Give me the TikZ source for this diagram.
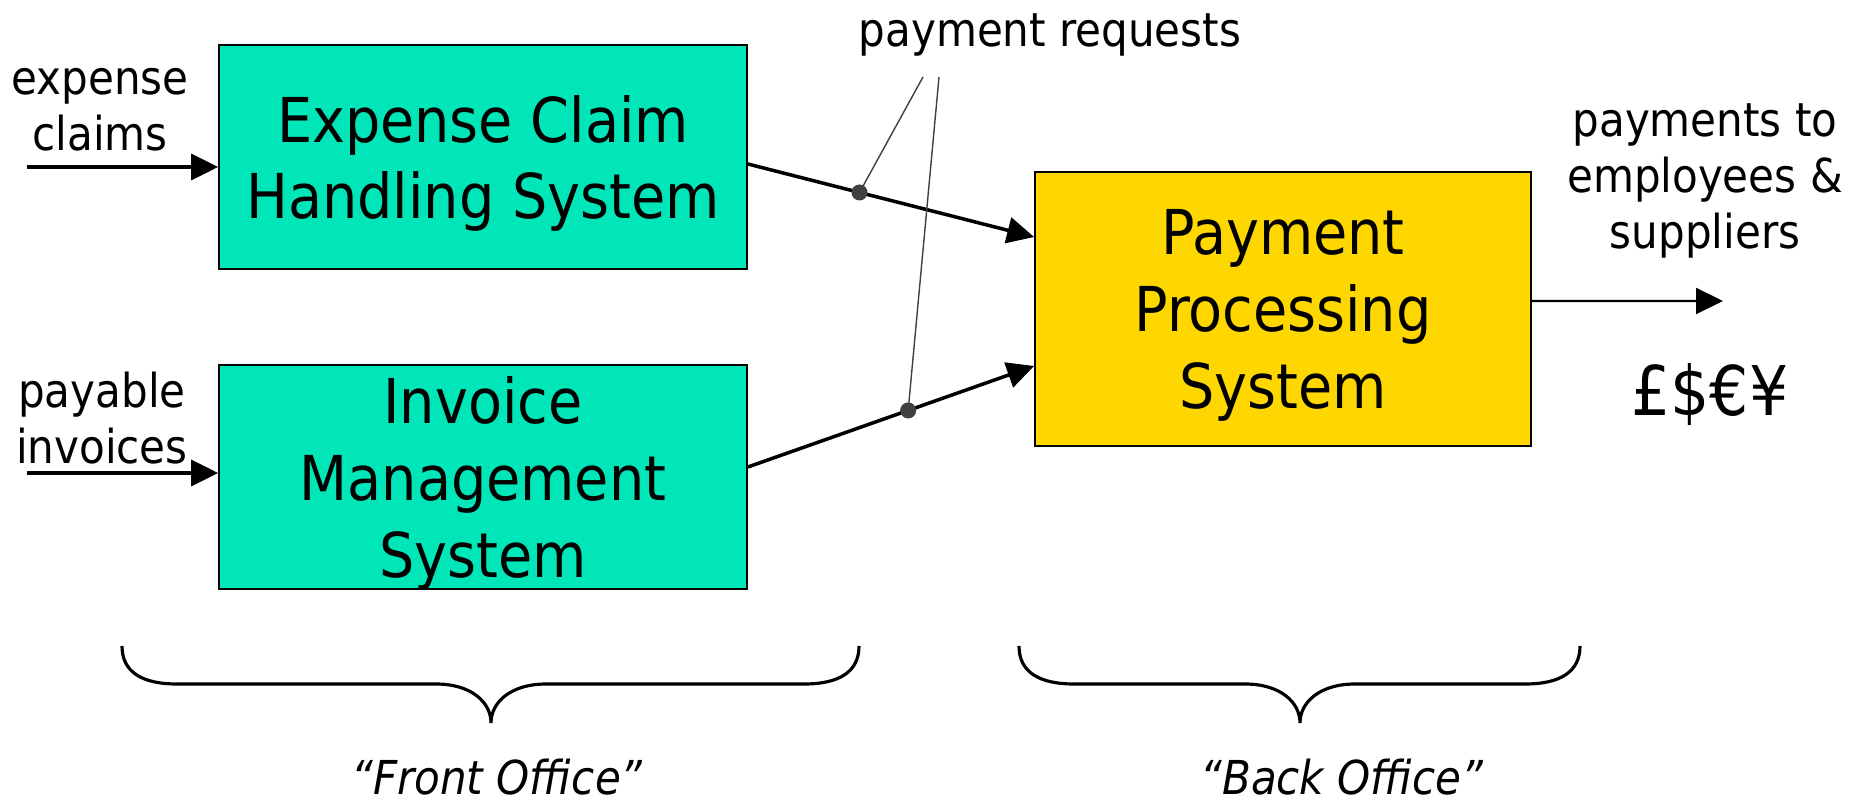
\documentclass[tikz,border=0pt]{standalone}
\usepackage{fontspec}
\setmainfont{DejaVu Sans Condensed}[ItalicFont={DejaVu Sans Condensed Oblique}]
\usepackage{tikz}
\usepackage{xcolor}
\usetikzlibrary{arrows.meta,calc}
\definecolor{sysgreen}{RGB}{0,230,184}
\definecolor{sysyellow}{RGB}{255,215,0}
\definecolor{dotgrey}{RGB}{64,64,64}
\tikzset{sysbox/.style={draw=black,line width=0.5pt,inner sep=0pt,align=center,text depth=-0.05cm,font=\fontsize{17.6}{21.8}\selectfont},
  flow/.style={line width=1pt,-{Triangle[length=0.27cm,width=0.26cm]}},
  lbl/.style={inner sep=0pt,align=center,font=\fontsize{13.3}{16}\selectfont},
  callout/.style={draw=dotgrey,line width=0.4pt},
  brace/.style={line width=0.9pt},
  office/.style={inner sep=0pt,font=\fontsize{13.3}{15}\selectfont\itshape}}

\begin{document}
\begin{tikzpicture}
%\draw[help lines](0,0)grid(19,8);
\useasboundingbox (0,0) rectangle (18.65,8.02);
\node[sysbox,fill=sysgreen,minimum width=5.28cm,minimum height=2.24cm] (ech) at (4.83,6.45) {Expense Claim\\Handling System};
\node[sysbox,fill=sysgreen,minimum width=5.28cm,minimum height=2.24cm] (ims) at (4.83,3.25) {Invoice\\Management\\System};
\node[sysbox,fill=sysyellow,minimum width=4.96cm,minimum height=2.74cm] (pps) at (12.83,4.93) {Payment\\Processing\\System};

% inputs
\coordinate (ecin) at (0.27,6.35);
\coordinate (piin) at (0.27,3.29);
\node[lbl,anchor=south] (eclbl) at (1.00,6.50) {expense\\claims};
\node[lbl,anchor=south] (pilbl) at (1.02,3.37) {payable\\invoices};
\draw[flow] (ecin) -- (ecin -| ech.west);
\draw[flow] (piin) -- (piin -| ims.west);

% payment requests
\draw[flow] ([yshift=-0.07cm]ech.east) -- coordinate[pos=0.39] (d1) ([yshift=0.72cm]pps.west);
\draw[flow] ([yshift=0.10cm]ims.east) -- coordinate[pos=0.56] (d2) ([yshift=-0.57cm]pps.west);
\node[lbl,anchor=base] (preq) at (10.50,7.55) {payment requests};
\coordinate (c1) at (9.23,7.25);
\coordinate (c2) at (9.39,7.25);
\draw[callout] (c1) -- (d1);
\draw[callout] (c2) -- (d2);
\fill[dotgrey] (d1) circle (0.08);
\fill[dotgrey] (d2) circle (0.08);

% output
\coordinate (pay) at (17.23,5.01);
\draw[flow,line width=0.6pt] ([yshift=0.08cm]pps.east) -- (pay);
\node[lbl] (paylbl) at (17.05,6.21) {payments to\\employees \&\\suppliers};
\node[inner sep=0pt,anchor=base,font=\fontsize{19.5}{23}\selectfont] (cash) at (17.10,3.87) {£\$€¥};

% front / back office
\foreach \l/\t/\r in {1.22/4.91/8.59,10.19/13.00/15.80}
  \draw[brace] (\l,1.56) .. controls (\l,1.30) and (\l+0.2,1.18) .. (\l+0.55,1.18) -- (\t-0.55,1.18) .. controls (\t-0.2,1.18) and (\t,1.0) .. (\t,0.79) .. controls (\t,1.0) and (\t+0.2,1.18) .. (\t+0.55,1.18) -- (\r-0.55,1.18) .. controls (\r-0.2,1.18) and (\r,1.30) .. (\r,1.56);
\node[office,anchor=base] (front) at (4.97,0.08) {``Front Office''};
\node[office,anchor=base] (back) at (13.42,0.08) {``Back Office''};
\end{tikzpicture}
\end{document}
